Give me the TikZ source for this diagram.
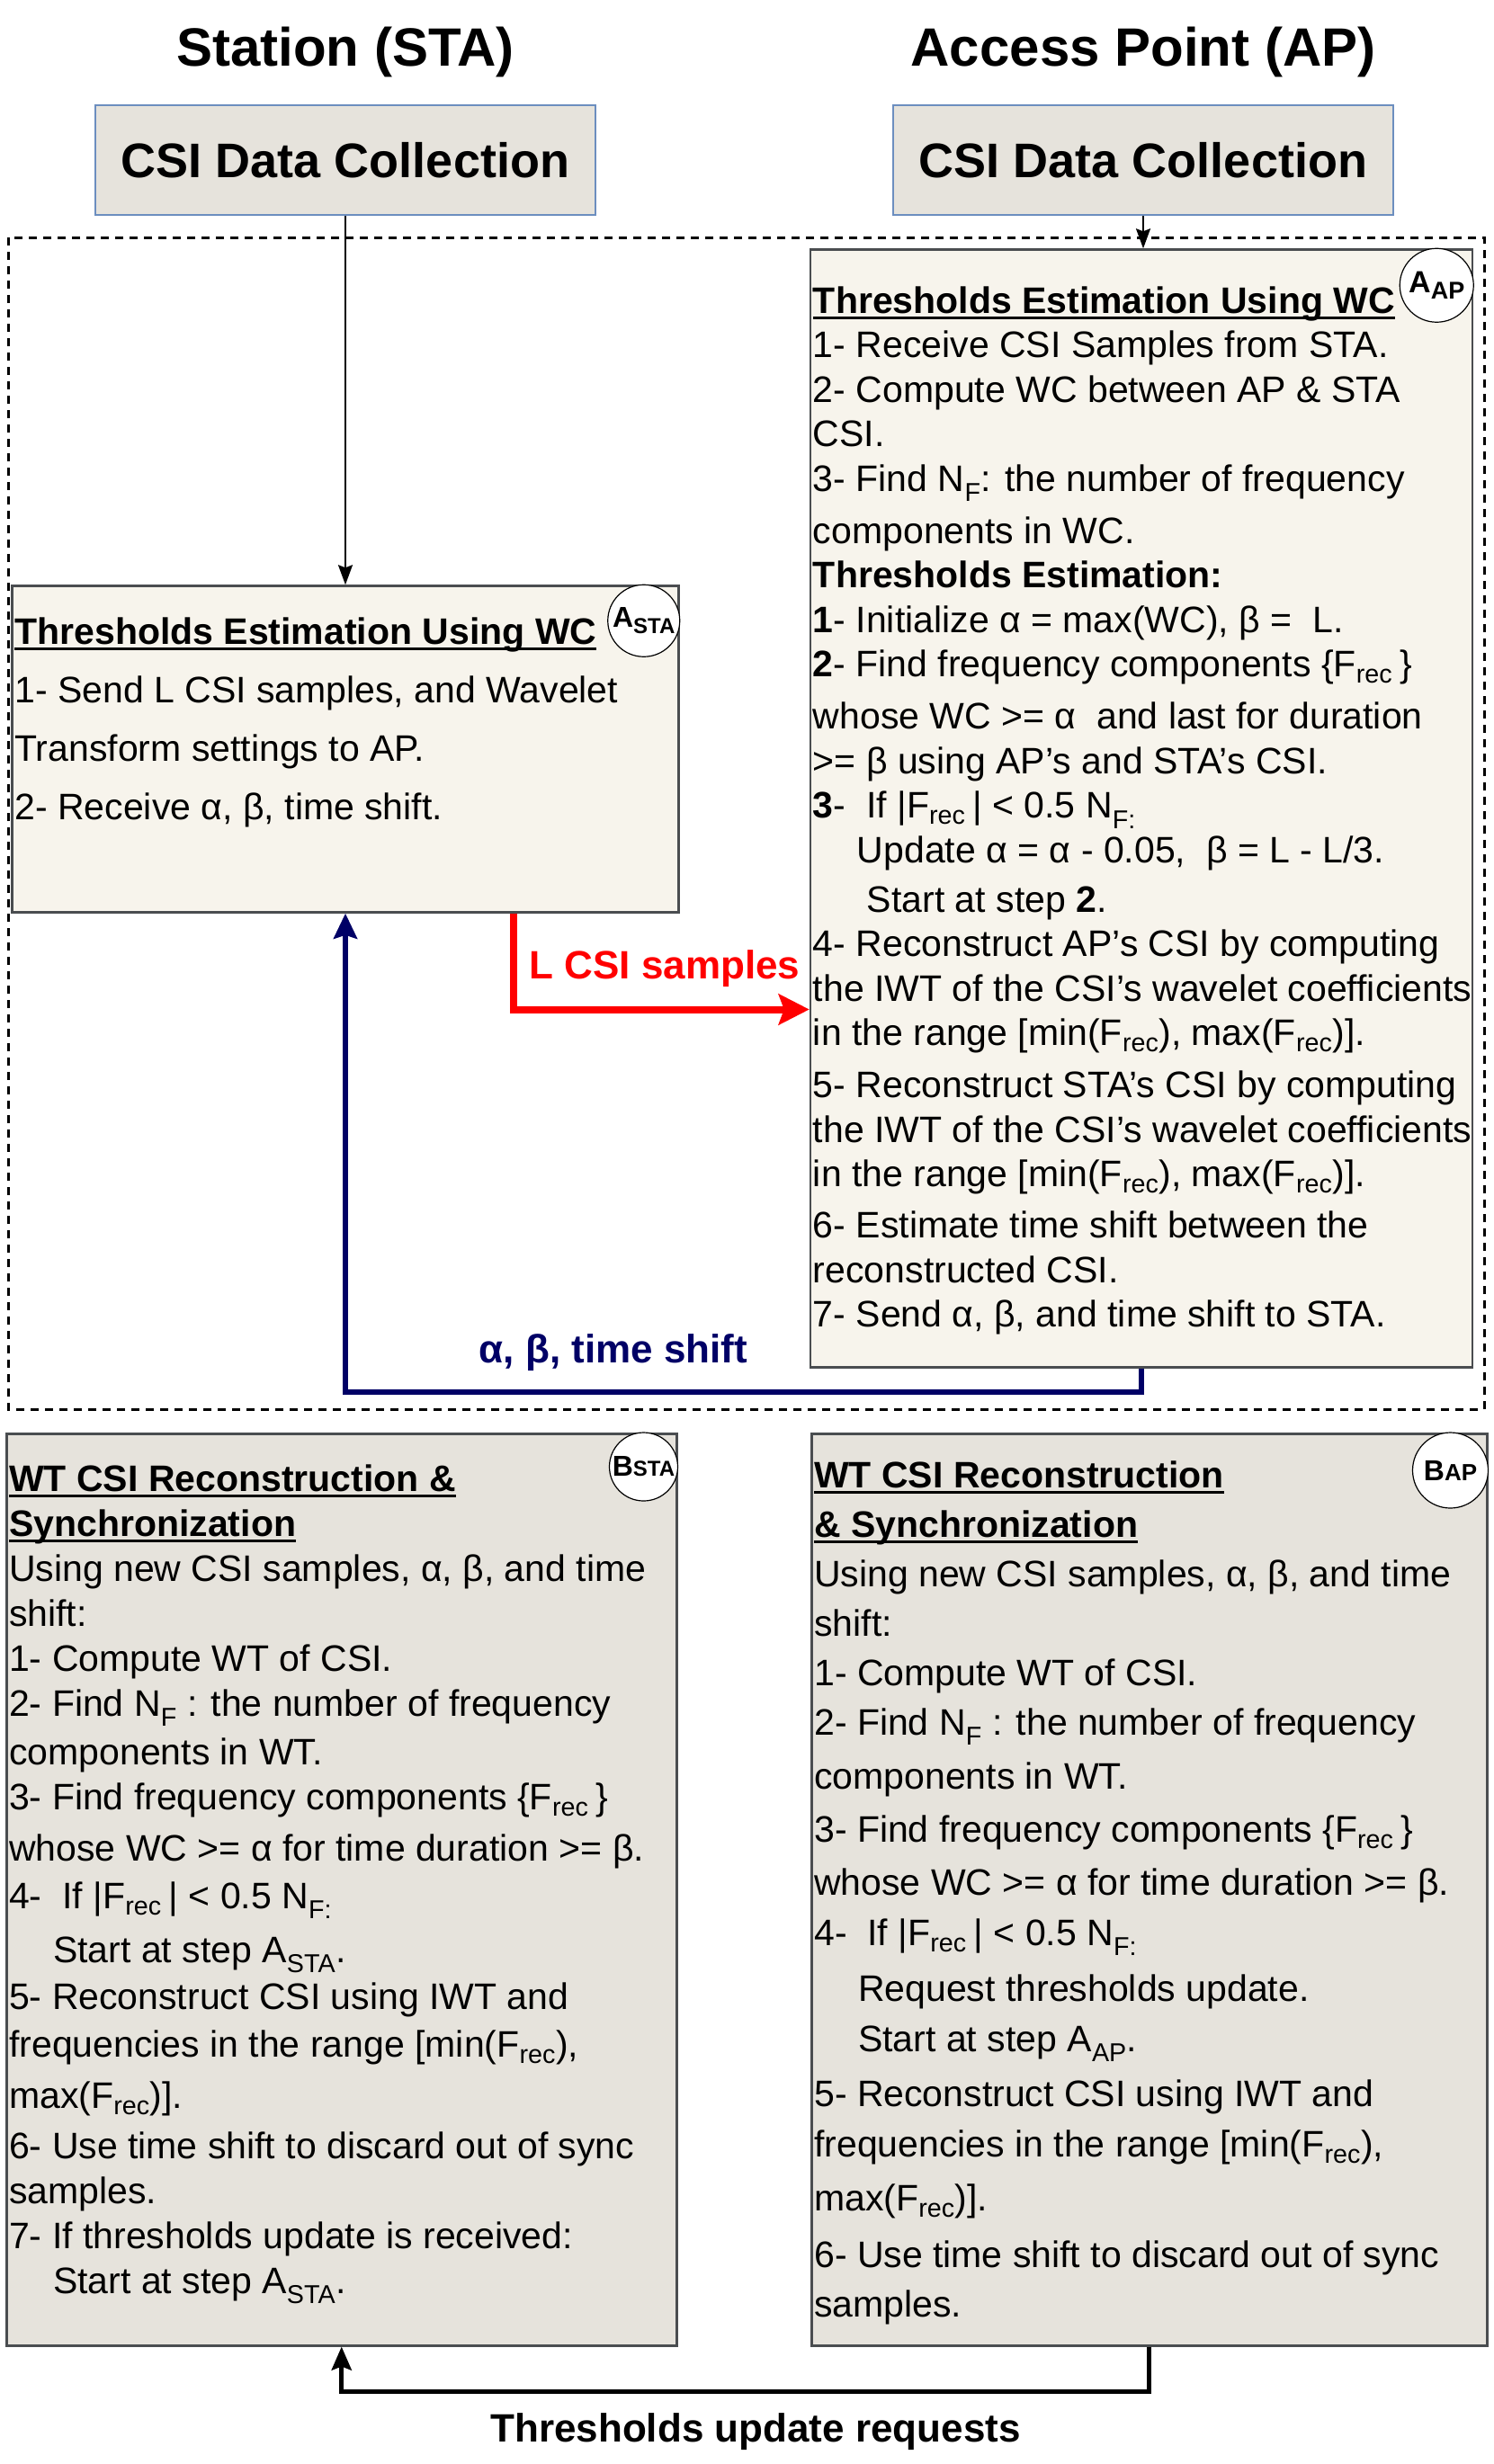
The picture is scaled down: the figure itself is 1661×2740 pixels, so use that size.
\documentclass[tikz,border=0pt]{standalone}
\usepackage{fontspec}
\setmainfont{Liberation Sans}
\usetikzlibrary{arrows.meta, positioning}
\definecolor{paperlight}{HTML}{F7F4EC}
\definecolor{paperdark}{HTML}{E6E3DC}
\definecolor{boxedge}{HTML}{4A4D50}
\definecolor{csiedge}{HTML}{6C8EBF}
\definecolor{msgred}{HTML}{FF0000}
\definecolor{msgnavy}{HTML}{000066}

\newsavebox{\ulsave}
\newcommand{\ulbox}[1]{\sbox{\ulsave}{#1}\rlap{\rule[-7pt]{\wd\ulsave}{3pt}}\usebox{\ulsave}}
\newcommand{\firstline}{\rule{0pt}{30pt}}
\newcommand{\tagsub}[2]{\raisebox{#2}{\fontsize{#1}{#1}\selectfont\bfseries}}

\begin{document}
\begin{tikzpicture}[
    x=1pt, y=-1pt,
    every node/.style={inner sep=0pt},
    sidetitle/.style={font=\fontsize{60pt}{72pt}\selectfont\bfseries, anchor=base},
    csibox/.style={draw=csiedge, fill=paperdark, line width=2.5pt, minimum width=556pt, minimum height=122pt, font=\fontsize{54pt}{64pt}\selectfont\bfseries},
    stepbox/.style={draw=boxedge, line width=2.5pt},
    lightbox/.style={stepbox, fill=paperlight},
    darkbox/.style={stepbox, fill=paperdark},
    steptext/.style={anchor=north west, align=left, font=\fontsize{41pt}{#1}\selectfont},
    tagmark/.style={draw, circle, fill=white, line width=1.2pt, font=\bfseries},
    msglabel/.style={font=\fontsize{44pt}{52pt}\selectfont\bfseries, anchor=base},
    feedarrow/.style={-{Stealth[length=22pt, width=16pt, inset=3pt]}, line width=2pt},
    csiarrow/.style={-{Stealth[length=34pt, width=34pt, inset=6pt]}, line width=8pt, draw=msgred},
    shiftarrow/.style={-{Stealth[length=28pt, width=26pt, inset=4pt]}, line width=6pt, draw=msgnavy},
    updatearrow/.style={-{Stealth[length=26pt, width=22pt, inset=4pt]}, line width=5pt},
    framebox/.style={dash pattern=on 9pt off 7pt, line width=3pt}
]
    \useasboundingbox (0,0) rectangle (1661,2740);

    % sides
    \node[sidetitle] (staTitle) at (384,74) {Station (STA)};
    \node[sidetitle] (apTitle) at (1271,74) {Access Point (AP)};
    \node[csibox] (staCSI) at (384,178) {CSI Data Collection};
    \node[csibox] (apCSI) at (1271,178) {CSI Data Collection};

    % phase A
    \draw[framebox] (9,264) rectangle (1650,1567);
    \node[lightbox, minimum width=741pt, minimum height=363pt, below=410pt of staCSI] (staA) {};
    \node[lightbox, minimum width=736pt, minimum height=1243pt, below=36pt of apCSI, xshift=-2pt] (apA) {};

    \node[steptext=65pt] (staAtext) at ([xshift=4pt, yshift=-36pt]staA.north west) {\firstline\ulbox{\bfseries Thresholds Estimation Using WC}\\
1- Send L CSI samples, and Wavelet\\
Transform settings to AP.\\
2- Receive α, β, time shift.};

    \node[steptext=49.5pt] (apAtext) at ([xshift=4pt, yshift=-42pt]apA.north west) {\firstline\ulbox{\bfseries Thresholds Estimation Using WC}\\
1- Receive CSI Samples from STA.\\
2- Compute WC between AP \& STA\\
CSI.\\
3- Find N\textsubscript{F}: the number of frequency\\[8.5pt]
components in WC.\\
\textbf{Thresholds Estimation:}\\
\textbf{1}- Initialize α = max(WC), β =\ \ L.\\
\textbf{2}- Find frequency components \{F\textsubscript{rec }\}\\[8.5pt]
whose WC >= α\ \ and last for duration\\
>= β using AP's and STA's CSI.\\
\textbf{3}-\ \ If |F\textsubscript{rec }| < 0.5 N\textsubscript{F:}\\
\hspace*{49pt}Update α = α - 0.05,\ \ β = L - L/3.\\[5.5pt]
\hspace*{60pt}Start at step \textbf{2}.\\
4- Reconstruct AP's CSI by computing\\
the IWT of the CSI's wavelet coefficients\\
in the range [min(F\textsubscript{rec}), max(F\textsubscript{rec})].\\[8.5pt]
5- Reconstruct STA's CSI by computing\\
the IWT of the CSI's wavelet coefficients\\
in the range [min(F\textsubscript{rec}), max(F\textsubscript{rec})].\\[7.5pt]
6- Estimate time shift between the\\
reconstructed CSI.\\
7- Send α, β, and time shift to STA.};

    \node[tagmark, minimum size=80pt] (tagAsta) at ([shift={(-40pt,-40pt)}]staA.north east) {{\fontsize{32pt}{32pt}\selectfont A}\raisebox{-7pt}{\fontsize{24pt}{24pt}\selectfont STA}};
    \node[tagmark, minimum size=82pt] (tagAap) at ([shift={(-41pt,-41pt)}]apA.north east) {{\fontsize{34pt}{34pt}\selectfont A}\raisebox{-7pt}{\fontsize{27pt}{27pt}\selectfont AP}};

    % phase B
    \node[darkbox, minimum width=745pt, minimum height=1014pt, anchor=north west] (staB) at (6,1593) {};
    \node[darkbox, minimum width=751pt, minimum height=1014pt, anchor=north west] (apB) at (901,1593) {};

    \node[steptext=50pt] (staBtext) at ([xshift=4pt, yshift=-35pt]staB.north west) {\firstline\ulbox{\bfseries WT CSI Reconstruction \&}\\
\ulbox{\bfseries Synchronization}\\
Using new CSI samples, α, β, and time\\
shift:\\
1- Compute WT of CSI.\\
2- Find N\textsubscript{F} : the number of frequency\\[4pt]
components in WT.\\
3- Find frequency components \{F\textsubscript{rec }\}\\[7pt]
whose WC >= α for time duration >= β.\\[3pt]
4-\ \ If |F\textsubscript{rec }| < 0.5 N\textsubscript{F:}\\[10pt]
\hspace*{49pt}Start at step A\textsubscript{STA}.\\[2pt]
5- Reconstruct CSI using IWT and\\[3pt]
frequencies in the range [min(F\textsubscript{rec}),\\[7pt]
max(F\textsubscript{rec})].\\[6pt]
6- Use time shift to discard out of sync\\
samples.\\
7- If thresholds update is received:\\
\hspace*{49pt}Start at step A\textsubscript{STA}.};

    \node[steptext=55pt] (apBtext) at ([xshift=4pt, yshift=-31pt]apB.north west) {\firstline\ulbox{\bfseries WT CSI Reconstruction}\\
\ulbox{\bfseries \& Synchronization}\\
Using new CSI samples, α, β, and time\\
shift:\\
1- Compute WT of CSI.\\
2- Find N\textsubscript{F} : the number of frequency\\[5pt]
components in WT.\\[4pt]
3- Find frequency components \{F\textsubscript{rec }\}\\[4pt]
whose WC >= α for time duration >= β.\\[1pt]
4-\ \ If |F\textsubscript{rec }| < 0.5 N\textsubscript{F:}\\[7pt]
\hspace*{49pt}Request thresholds update.\\[1pt]
\hspace*{49pt}Start at step A\textsubscript{AP}.\\[6pt]
5- Reconstruct CSI using IWT and\\[1pt]
frequencies in the range [min(F\textsubscript{rec}),\\[5pt]
max(F\textsubscript{rec})].\\[8pt]
6- Use time shift to discard out of sync\\
samples.};

    \node[tagmark, minimum size=76pt] (tagBsta) at ([shift={(-38pt,-38pt)}]staB.north east) {{\fontsize{32pt}{32pt}\selectfont B}{\fontsize{24pt}{24pt}\selectfont STA}};
    \node[tagmark, minimum size=84pt] (tagBap) at ([shift={(-42pt,-42pt)}]apB.north east) {{\fontsize{32pt}{32pt}\selectfont B}{\fontsize{26pt}{26pt}\selectfont AP}};

    % connectors
    \draw[feedarrow] (staCSI) -- (staA);
    \draw[feedarrow] (apCSI.south) -- (apCSI.south |- apA.north);
    \draw[csiarrow] ([xshift=186.5pt]staA.south) |- ([yshift=-223.5pt]apA.west);
    \draw[shiftarrow] (apA.south) -- ++(0,26) -| (staA.south);
    \draw[updatearrow] (apB.south) -- ++(0,50) -| (staB.south);

    \node[msglabel, text=msgred] (csiLabel) at (739,1088) {L CSI samples};
    \node[msglabel, text=msgnavy] (shiftLabel) at (682,1515) {α, β, time shift};
    \node[msglabel] (updateLabel) at (840,2715) {Thresholds update requests};
\end{tikzpicture}
\end{document}
